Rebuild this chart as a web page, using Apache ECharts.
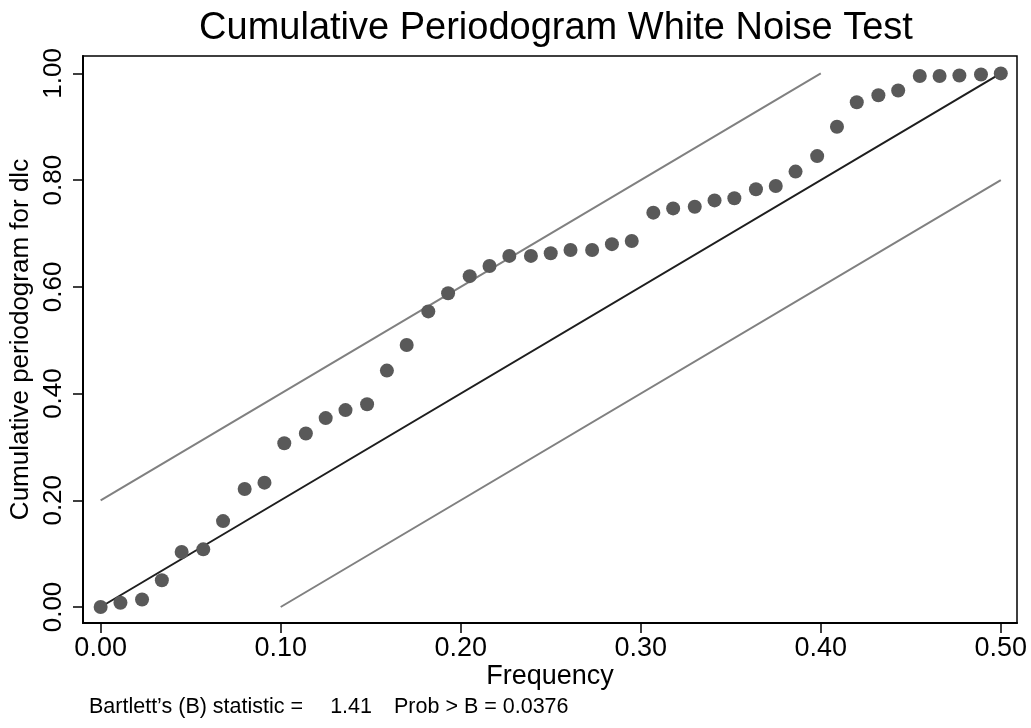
<!DOCTYPE html>
<html>
<head>
<meta charset="utf-8">
<title>Cumulative Periodogram White Noise Test</title>
<script src="https://cdn.jsdelivr.net/npm/echarts@6/dist/echarts.min.js"></script>
<style>
  html, body { margin: 0; padding: 0; background: #fff; }
  #chart { width: 1031px; height: 728px; }
</style>
</head>
<body>
<div id="chart"></div>
<script>
// Fourier frequencies (cycles per observation)
const frequency = [
  0.000, 0.011, 0.023, 0.034, 0.045, 0.057, 0.068, 0.080, 0.091, 0.102,
  0.114, 0.125, 0.136, 0.148, 0.159, 0.170, 0.182, 0.193, 0.205, 0.216,
  0.227, 0.239, 0.250, 0.261, 0.273, 0.284, 0.295, 0.307, 0.318, 0.330,
  0.341, 0.352, 0.364, 0.375, 0.386, 0.398, 0.409, 0.420, 0.432, 0.443,
  0.455, 0.466, 0.477, 0.489, 0.500
];
// Cumulative periodogram for dlc at each frequency
const cumPeriodogram = [
  0.000, 0.008, 0.014, 0.050, 0.103, 0.108, 0.161, 0.221, 0.233, 0.307,
  0.325, 0.354, 0.369, 0.380, 0.443, 0.491, 0.554, 0.588, 0.620, 0.639,
  0.658, 0.658, 0.663, 0.669, 0.669, 0.680, 0.686, 0.739, 0.747, 0.750,
  0.762, 0.766, 0.783, 0.789, 0.816, 0.845, 0.900, 0.946, 0.959, 0.968,
  0.995, 0.995, 0.996, 0.998, 1.000
];
// Reference line for white noise and its confidence band
const whiteNoiseLine = [[0, 0], [0.5, 1]];
const upperBand = [[0, 0.2], [0.4, 1]];
const lowerBand = [[0.1, 0], [0.5, 0.8]];
// Tick values
const xTicks = [0, 0.1, 0.2, 0.3, 0.4, 0.5];
const yTicks = [0, 0.2, 0.4, 0.6, 0.8, 1.0];

const titleText = 'Cumulative Periodogram White Noise Test';
const xName = 'Frequency';
const yName = 'Cumulative periodogram for dlc';
const noteParts = ['Bartlett\u2019s (B) statistic =', '1.41', 'Prob > B = 0.0376'];

const FONT = '"Liberation Sans", Arial, Helvetica, sans-serif';

const chart = echarts.init(document.getElementById('chart'), null, { renderer: 'canvas' });

const points = frequency.map((f, i) => [f, cumPeriodogram[i]]);

chart.setOption({
  backgroundColor: '#ffffff',
  animation: false,
  title: {
    text: titleText,
    left: 551,
    top: 5,
    textAlign: 'center',
    textStyle: { fontFamily: FONT, fontSize: 38, fontWeight: 'normal', color: '#000' }
  },
  grid: {
    left: 83, right: 14, top: 56, bottom: 105,
    outerBoundsMode: 'none',
    containLabel: false,
    show: true, borderColor: '#000', borderWidth: 1.5, backgroundColor: '#fff'
  },
  xAxis: {
    type: 'value',
    min: -0.0098, max: 0.509,
    name: xName,
    nameLocation: 'middle',
    nameGap: 40,
    nameMoveOverlap: false,
    nameTextStyle: { fontFamily: FONT, fontSize: 27, color: '#000' },
    axisLine: { show: true, onZero: false, lineStyle: { color: '#000', width: 2 } },
    axisTick: { show: true, inside: false, length: 10, customValues: xTicks, lineStyle: { color: '#000', width: 1.5 } },
    axisLabel: {
      customValues: xTicks, margin: 12,
      fontFamily: FONT, fontSize: 27, color: '#000',
      formatter: v => v.toFixed(2)
    },
    splitLine: { show: false }
  },
  yAxis: {
    type: 'value',
    min: -0.03, max: 1.0326,
    name: yName,
    nameLocation: 'middle',
    nameRotate: 90,
    nameGap: 49,
    nameMoveOverlap: false,
    nameTextStyle: { fontFamily: FONT, fontSize: 26, color: '#000' },
    axisLine: { show: true, onZero: false, lineStyle: { color: '#000', width: 2 } },
    axisTick: { show: true, inside: false, length: 10, customValues: yTicks, lineStyle: { color: '#000', width: 1.5 } },
    axisLabel: {
      customValues: yTicks, margin: 16, rotate: 90,
      fontFamily: FONT, fontSize: 26, color: '#000',
      formatter: v => v.toFixed(2)
    },
    splitLine: { show: false }
  },
  series: [
    {
      type: 'line', data: upperBand, symbol: 'none', silent: true,
      lineStyle: { color: '#808080', width: 2 }, z: 2
    },
    {
      type: 'line', data: lowerBand, symbol: 'none', silent: true,
      lineStyle: { color: '#808080', width: 2 }, z: 2
    },
    {
      type: 'line', data: whiteNoiseLine, symbol: 'none', silent: true,
      lineStyle: { color: '#1e1e1e', width: 2 }, z: 3
    },
    {
      type: 'scatter', data: points, symbol: 'circle', symbolSize: 14,
      itemStyle: { color: '#595959', opacity: 1 }, z: 4
    }
  ],
  graphic: [
    {
      type: 'text', left: 89, top: 696,
      style: { text: noteParts[0], font: '21.5px ' + FONT, fill: '#000' }
    },
    {
      type: 'text', right: 1031 - 372, top: 696,
      style: { text: noteParts[1], font: '21.5px ' + FONT, fill: '#000' }
    },
    {
      type: 'text', left: 394, top: 696,
      style: { text: noteParts[2], font: '21.5px ' + FONT, fill: '#000' }
    }
  ]
});
</script>
</body>
</html>
